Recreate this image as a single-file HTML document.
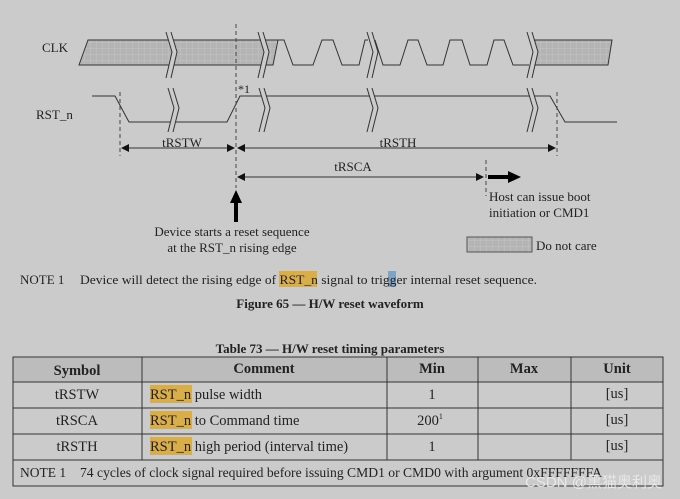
<!DOCTYPE html>
<html><head><meta charset="utf-8"><style>
html,body{margin:0;padding:0;background:#cbcbcb;}
svg{display:block;font-family:"Liberation Serif",serif;}
</style></head><body>
<svg width="680" height="499" viewBox="0 0 680 499" xmlns="http://www.w3.org/2000/svg">
<defs>
<pattern id="h" width="6" height="6" patternUnits="userSpaceOnUse"><rect width="6" height="6" fill="#b4b4b4"/><path d="M0 0H6M0 0V6" stroke="#c4c4c4" stroke-width="1"/></pattern>
<marker id="a" markerWidth="8" markerHeight="8" refX="7" refY="4" orient="auto"><path d="M0 0L8 4L0 8z" fill="#111"/></marker>
<marker id="b" markerWidth="8" markerHeight="8" refX="1" refY="4" orient="auto"><path d="M8 0L0 4L8 8z" fill="#111"/></marker>
</defs>
<rect width="680" height="499" fill="#cbcbcb"/>
<g fill="none" stroke="#333" stroke-width="1">
<path d="M88 40L278 40L273 65L79 65Z" fill="url(#h)"/>
<path d="M535 40L612 40L608 65L531 65Z" fill="url(#h)"/>
<path d="M278 40L284 40L293 65L313 65L322 40L333 40L342 65L359 65L365 40L368 40"/>
<path d="M375 40L383 65L400 65L408 40L418 40L427 65L443 65L450 40L462 40L470 65L487 65L494 40L504 40L513 65L529 65"/>
<path d="M92 96L115 96L129 122L227 122L240 96L550 96L565 122L617 122"/>
</g>
<!-- break marks -->
<g stroke="#333" stroke-width="1" fill="#cbcbcb">
<path d="M166 32L172 52L166 78L171 78L177 52L171 32Z" stroke="none"/><path d="M166 32L172 52L166 78M171 32L177 52L171 78" fill="none"/>
<path d="M258 32L264 52L258 78L263 78L269 52L263 32Z" stroke="none"/><path d="M258 32L264 52L258 78M263 32L269 52L263 78" fill="none"/>
<path d="M367 32L373 52L367 78L372 78L378 52L372 32Z" stroke="none"/><path d="M367 32L373 52L367 78M372 32L378 52L372 78" fill="none"/>
<path d="M527 32L533 52L527 78L532 78L538 52L532 32Z" stroke="none"/><path d="M527 32L533 52L527 78M532 32L538 52L532 78" fill="none"/>
<path d="M168 88L174 108L168 132L173 132L179 108L173 88Z" stroke="none"/><path d="M168 88L174 108L168 132M173 88L179 108L173 132" fill="none"/>
<path d="M259 88L265 108L259 132L264 132L270 108L264 88Z" stroke="none"/><path d="M259 88L265 108L259 132M264 88L270 108L264 132" fill="none"/>
<path d="M367 88L373 108L367 132L372 132L378 108L372 88Z" stroke="none"/><path d="M367 88L373 108L367 132M372 88L378 108L372 132" fill="none"/>
<path d="M527 88L533 108L527 132L532 132L538 108L532 88Z" stroke="none"/><path d="M527 88L533 108L527 132M532 88L538 108L532 132" fill="none"/>
</g>
<g stroke="#444" stroke-width="1" stroke-dasharray="4,3">
<path d="M120 92V156M236 24V188M557 92V156M486 160V196"/>
</g>
<g stroke="#333" stroke-width="1">
<path d="M122 148H234" marker-start="url(#b)" marker-end="url(#a)"/>
<path d="M238 148H555" marker-start="url(#b)" marker-end="url(#a)"/>
<path d="M238 177H483" marker-start="url(#b)" marker-end="url(#a)"/>
</g>
<path d="M488 175H508V171L521 177L508 183V179H488Z" fill="#000"/>
<path d="M234 222V203H230L236 190L242 203H238V222Z" fill="#000"/>
<rect x="467" y="237" width="65" height="15" fill="url(#h)" stroke="#555"/>
<g fill="#222" font-size="13">
<text x="42" y="52">CLK</text>
<text x="36" y="119">RST_n</text>
<text x="238" y="93" font-size="12">*1</text>
<text x="182" y="147" text-anchor="middle">tRSTW</text>
<text x="398" y="147" text-anchor="middle">tRSTH</text>
<text x="353" y="171" text-anchor="middle">tRSCA</text>
<text x="489" y="201">Host can issue boot</text>
<text x="489" y="217">initiation or CMD1</text>
<text x="232" y="236" text-anchor="middle">Device starts a reset sequence</text>
<text x="232" y="252" text-anchor="middle">at the RST_n rising edge</text>
<text x="536" y="250">Do not care</text>
<rect x="279" y="271" width="38" height="16" fill="#d9ad4a"/>
<rect x="388" y="271" width="8" height="16" fill="#7fa3c4"/>
<text x="20" y="284">NOTE 1</text>
<text x="80" y="284" textLength="457" lengthAdjust="spacingAndGlyphs">Device will detect the rising edge of RST_n signal to trigger internal reset sequence.</text>
<text x="330" y="308" text-anchor="middle" font-weight="bold">Figure 65 — H/W reset waveform</text>
<text x="330" y="353" text-anchor="middle" font-weight="bold">Table 73 — H/W reset timing parameters</text>
</g>
<rect x="13" y="357" width="650" height="25" fill="#bcbcbc"/>
<g stroke="#333" stroke-width="1" fill="none">
<rect x="13" y="357" width="650" height="129"/>
<path d="M13 382H663M13 408H663M13 434H663M13 460H663"/>
<path d="M142 357V460M387 357V460M478 357V460M571 357V460"/>
</g>
<g fill="#d9ad4a">
<rect x="150" y="385" width="42" height="18"/><rect x="150" y="411" width="42" height="18"/><rect x="150" y="437" width="42" height="18"/>
</g>
<g fill="#222" font-size="14.5">
<g font-weight="bold" text-anchor="middle">
<text x="77" y="375">Symbol</text><text x="264" y="373">Comment</text><text x="432" y="373">Min</text><text x="524" y="373">Max</text><text x="617" y="373">Unit</text>
</g>
<g text-anchor="middle">
<text x="77" y="399">tRSTW</text><text x="77" y="425">tRSCA</text><text x="77" y="451">tRSTH</text>
<text x="432" y="399">1</text><text x="430" y="425">200<tspan font-size="8" dy="-6">1</tspan></text><text x="432" y="451">1</text>
<text x="617" y="398">[us]</text><text x="617" y="424">[us]</text><text x="617" y="450">[us]</text>
</g>
<text x="150" y="399">RST_n pulse width</text>
<text x="150" y="425">RST_n to Command time</text>
<text x="150" y="451">RST_n high period (interval time)</text>
<text x="20" y="477" font-size="13.5">NOTE 1</text>
<text x="80" y="477" font-size="13.5" textLength="522" lengthAdjust="spacingAndGlyphs">74 cycles of clock signal required before issuing CMD1 or CMD0 with argument 0xFFFFFFFA</text>
</g>
<text x="662" y="487" text-anchor="end" font-family="Liberation Sans,'Noto Sans CJK SC',sans-serif" font-size="15" fill="#eeeeee" opacity="0.85">CSDN @黑猫奥利奥</text>
</svg>
</body></html>
